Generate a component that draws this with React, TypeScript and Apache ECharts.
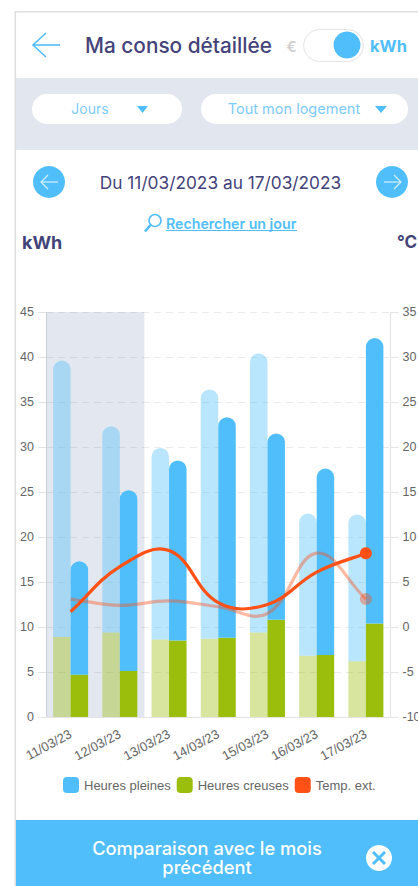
import React, { useEffect, useRef } from "react";
import * as echarts from "echarts";

const days = ["11/03/23", "12/03/23", "13/03/23", "14/03/23", "15/03/23", "16/03/23", "17/03/23"];
const creusesCurrent = [4.7, 5.1, 8.5, 8.8, 10.8, 6.9, 10.4];
const pleinesCurrent = [12.6, 20.1, 20.0, 24.5, 20.7, 20.7, 31.7];
const creusesPrevious = [8.9, 9.4, 8.6, 8.7, 9.4, 6.8, 6.2];
const pleinesPrevious = [30.7, 22.9, 21.3, 27.7, 31.0, 15.8, 16.3];
const tempCurrent = [1.7, 6.7, 8.5, 2.7, 2.5, 6.1, 8.2];
const tempPrevious = [3.1, 2.4, 2.9, 2.25, 1.5, 8.2, 3.1];
const shadedDays = [45, 45, null, null, null, null, null];

const BLUE = "#4FBEFA";
const GREEN = "#9BBD0C";
const ORANGE = "#FF5016";
const INK = "#43437A";
const UI_FONT = "Inter, 'Noto Sans', sans-serif";
const TENSION = 0.4;

const txt = (text: string, x: number, y: number, font: string, fill: string, textAlign = "left", lineHeight?: number) => ({
  type: "text",
  style: { text, x, y, font: `${font} ${UI_FONT}`, fill, textAlign, textVerticalAlign: "middle", lineHeight },
});
const roundRect = (x: number, y: number, width: number, height: number, r: number, fill: string, stroke?: string) => ({
  type: "rect",
  shape: { x, y, width, height, r },
  style: { fill, stroke: stroke ?? "none", lineWidth: 1 },
});
const poly = (points: number[][], stroke: string, lineWidth = 1.5) => ({
  type: "polyline",
  shape: { points },
  style: { stroke, lineWidth, fill: "none" },
});
const tri = (points: number[][]) => ({ type: "polygon", shape: { points }, style: { fill: BLUE } });
const circle = (cx: number, cy: number, r: number, fill: string, stroke?: string, lineWidth = 1) => ({
  type: "circle",
  shape: { cx, cy, r },
  style: { fill, stroke: stroke ?? "none", lineWidth },
});

const uiElements = [
  roundRect(16, 78, 402, 72, 0, "#E2E7EF"),
  roundRect(14.5, 11, 1.6, 875, 0, "#DEDEDE"),
  roundRect(14.5, 11, 404, 1.6, 0, "#DEDEDE"),
  poly([[60, 45], [33, 45]], BLUE, 1.6),
  poly([[46, 33], [33, 45], [46, 57]], BLUE, 1.6),
  txt("Ma conso détaillée", 85, 45, "500 20.8px", INK),
  txt("€", 291.5, 46, "600 15px", "#CFCFCF", "center"),
  roundRect(303.5, 29.5, 60, 32, 16, "#FFFFFF", "#E4E4E4"),
  circle(347, 45, 13.5, BLUE),
  txt("kWh", 370, 46, "700 16.5px", BLUE),
  roundRect(32, 94, 150, 30, 15, "#FFFFFF"),
  roundRect(201, 94, 207, 30, 15, "#FFFFFF"),
  txt("Jours", 90, 108.5, "400 14px", "#7CCBFA", "center"),
  tri([[137, 106], [148, 106], [142.5, 113]]),
  txt("Tout mon logement", 294, 108.5, "400 14.5px", "#7CCBFA", "center"),
  tri([[375, 106], [387, 106], [381, 113]]),
  circle(49, 182, 16, BLUE),
  poly([[58, 182], [41, 182]], "#D5EFFE", 1.2),
  poly([[48, 175], [41, 182], [48, 189]], "#D5EFFE", 1.2),
  circle(392, 182, 16, BLUE),
  poly([[384, 182], [401, 182]], "#D5EFFE", 1.2),
  poly([[394, 175], [401, 182], [394, 189]], "#D5EFFE", 1.2),
  txt("Du 11/03/2023 au 17/03/2023", 220.5, 182.5, "400 17.3px", INK, "center"),
  circle(155, 220.5, 6, "none", BLUE, 1.5),
  poly([[150.5, 225], [145, 231.5]], BLUE, 2.6),
  txt("Rechercher un jour", 166, 223.5, "600 14.2px", BLUE),
  roundRect(166, 230, 131, 1, 0, BLUE),
  txt("kWh", 22, 242, "700 18px", INK),
  txt("°C", 397, 242, "700 17px", INK),
  roundRect(16, 820, 402, 66, 0, BLUE),
  txt("Comparaison avec le mois\nprécédent", 207, 857.5, "500 18.3px", "#FFFFFF", "center", 18.5),
  circle(379, 858, 13, "#FFFFFF"),
  poly([[373, 852], [385, 864]], BLUE, 3),
  poly([[385, 852], [373, 864]], BLUE, 3),
];

const barSeries = (name: string, data: number[], stack: string, color: string, opacity: number, top: boolean) => ({
  type: "bar",
  name,
  data,
  stack,
  xAxisIndex: 0,
  yAxisIndex: 0,
  barWidth: 17.5,
  barGap: 0,
  z: 3,
  itemStyle: { color, opacity, borderRadius: top ? [9, 9, 0, 0] : 0 },
});

// Temperature curve: a tension spline through the data points, placed by the axes' own scales.
const splinePath = (pts: number[][]) => {
  const out: { c1: number[]; c2: number[] }[] = [];
  const prevCp: number[][] = [];
  const nextCp: number[][] = [];
  pts.forEach((p, i) => {
    const a = pts[Math.max(i - 1, 0)];
    const b = pts[Math.min(i + 1, pts.length - 1)];
    const d01 = Math.hypot(p[0] - a[0], p[1] - a[1]);
    const d12 = Math.hypot(b[0] - p[0], b[1] - p[1]);
    const total = d01 + d12 || 1;
    const fa = (TENSION * d01) / total;
    const fb = (TENSION * d12) / total;
    prevCp[i] = [p[0] - fa * (b[0] - a[0]), p[1] - fa * (b[1] - a[1])];
    nextCp[i] = [p[0] + fb * (b[0] - a[0]), p[1] + fb * (b[1] - a[1])];
  });
  for (let i = 0; i < pts.length - 1; i++) out.push({ c1: nextCp[i], c2: prevCp[i + 1] });
  return (
    `M${pts[0][0]} ${pts[0][1]}` +
    out.map((s, i) => `C${s.c1[0]} ${s.c1[1]} ${s.c2[0]} ${s.c2[1]} ${pts[i + 1][0]} ${pts[i + 1][1]}`).join("")
  );
};

const curveSeries = (name: string, values: number[], opacity: number, width: number) => ({
  type: "custom",
  name,
  data: values.map((v, i) => [i, v]),
  encode: { x: 0, y: 1 },
  xAxisIndex: 0,
  yAxisIndex: 1,
  z: 5,
  clip: false,
  renderItem: (params: { dataIndex: number }, api: any) => {
    const last = values.length - 1;
    if (params.dataIndex === 0) {
      const pts = values.map((v, i) => api.coord([i, v]));
      return {
        type: "path",
        shape: { pathData: splinePath(pts) },
        style: { fill: "none", stroke: ORANGE, lineWidth: width, opacity },
      };
    }
    if (params.dataIndex === last) {
      const [cx, cy] = api.coord([last, values[last]]);
      return { type: "circle", shape: { cx, cy, r: 6 }, style: { fill: ORANGE, opacity } };
    }
    return null;
  },
});

export default function App() {
  const ref = useRef<HTMLDivElement>(null);
  useEffect(() => {
    document.body.style.margin = "0";
    const chart = echarts.init(ref.current!, undefined, { renderer: "svg" });
    chart.setOption({
      animation: false,
      backgroundColor: "#FFFFFF",
      textStyle: { fontFamily: "'Liberation Sans', Arial, sans-serif" },
      graphic: { elements: uiElements },
      grid: { left: 46, top: 312, width: 344.5, height: 405, outerBoundsMode: "none" },
      legend: {
        left: 58,
        top: 772,
        itemWidth: 16,
        itemHeight: 16,
        itemGap: 6,
        icon: "roundRect",
        textStyle: { fontSize: 13, color: "#666666" },
        data: [
          { name: "Heures pleines", itemStyle: { color: BLUE } },
          { name: "Heures creuses", itemStyle: { color: GREEN } },
          { name: "Temp. ext.", itemStyle: { color: ORANGE } },
        ],
      },
      xAxis: [
        {
          type: "category",
          data: days,
          axisLine: { lineStyle: { color: "#E3E3E3" } },
          axisTick: { show: false },
          axisLabel: { rotate: 28, fontSize: 13, color: "#666666", margin: 16, interval: 0 },
        },
        { type: "category", data: days, show: false },
      ],
      yAxis: [
        {
          type: "value",
          min: 0,
          max: 45,
          interval: 5,
          axisLine: { show: true, lineStyle: { color: "#E3E3E3" } },
          axisTick: { show: true, length: 8, lineStyle: { color: "#E3E3E3" } },
          axisLabel: { fontSize: 12.5, color: "#666666", margin: 12 },
          splitLine: { lineStyle: { color: "rgba(0,0,0,0.08)", type: [7, 5] } },
        },
        {
          type: "value",
          position: "right",
          min: -10,
          max: 35,
          interval: 5,
          axisLine: { show: true, lineStyle: { color: "#E3E3E3" } },
          axisTick: { show: true, length: 8, lineStyle: { color: "#E3E3E3" } },
          axisLabel: { fontSize: 12.5, color: "#666666", margin: 12 },
          splitLine: { show: false },
        },
      ],
      series: [
        {
          type: "bar",
          name: "Période sélectionnée",
          data: shadedDays,
          xAxisIndex: 1,
          yAxisIndex: 0,
          barWidth: "100%",
          z: 1,
          itemStyle: { color: "rgba(100,130,170,0.18)" },
        },
        barSeries("Heures creuses N-1", creusesPrevious, "previous", GREEN, 0.4, false),
        barSeries("Heures pleines N-1", pleinesPrevious, "previous", BLUE, 0.4, true),
        barSeries("Heures creuses", creusesCurrent, "current", GREEN, 1, false),
        barSeries("Heures pleines", pleinesCurrent, "current", BLUE, 1, true),
        curveSeries("Temp. ext. N-1", tempPrevious, 0.4, 3.2),
        curveSeries("Temp. ext.", tempCurrent, 1, 3.2),
      ],
    });
    return () => chart.dispose();
  }, []);
  return <div ref={ref} style={{ width: 418, height: 886, overflow: "hidden" }} />;
}
